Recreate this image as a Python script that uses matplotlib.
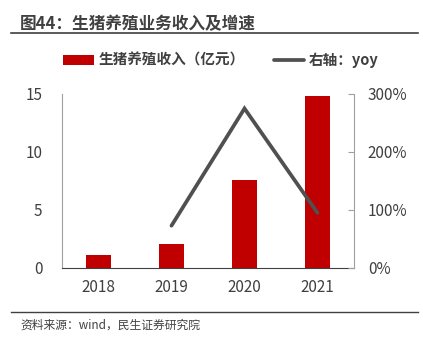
import numpy as np
import matplotlib.pyplot as plt
from matplotlib.ticker import FuncFormatter

plt.rcParams['font.family'] = ['Noto Sans CJK SC', 'DejaVu Sans']

years = ['2018', '2019', '2020', '2021']
revenue = [1.1, 2.05, 7.6, 14.85]
yoy_years = ['2019', '2020', '2021']
yoy = [0.73, 2.75, 0.95]

fig = plt.figure(figsize=(4.23, 3.55), dpi=100)
ax = fig.add_axes([62/423, 1-268/355, (354-62)/423, (268-94)/355])
x = np.arange(len(years))
ax.bar(x, revenue, width=0.33, color='#C00000', label='生猪养殖收入（亿元）', zorder=2)
ax.set_xlim(-0.5, 3.5)
ax.set_ylim(0, 15)
ax.set_yticks([0, 5, 10, 15])
ax.set_xticks(x)
ax.set_xticklabels(years)

ax2 = ax.twinx()
xi = [years.index(y) for y in yoy_years]
ax2.plot(xi, yoy, color='#505050', lw=2.7, label='右轴：yoy', zorder=3,
         solid_capstyle='round', solid_joinstyle='miter')
ax2.set_ylim(0, 3)
ax2.set_yticks([0, 1, 2, 3])
ax2.yaxis.set_major_formatter(FuncFormatter(lambda v, p: f'{v*100:.0f}%'))

for a in (ax, ax2):
    a.spines['top'].set_visible(False)
    for s in a.spines.values():
        s.set_color('#A0A0A0')
    a.tick_params(labelsize=11, colors='#404040')
ax.spines['right'].set_visible(False)
ax2.spines['left'].set_visible(False)
ax2.spines['bottom'].set_visible(False)
ax.spines['bottom'].set_color('#404040')
ax.tick_params(axis='y', length=0, pad=14)
ax.tick_params(axis='x', length=0, pad=8)
ax2.tick_params(axis='y', direction='in', length=4, color='#A0A0A0', pad=10)

h1, l1 = ax.get_legend_handles_labels()
h2, l2 = ax2.get_legend_handles_labels()
fig.legend(h1 + h2, l1 + l2, loc='center', bbox_to_anchor=(221/423, 1-60/355), ncol=2,
           frameon=False, prop={'size': 10.5, 'weight': 'bold'}, handlelength=2.1,
           columnspacing=2.0, labelcolor='#404040', handletextpad=0.3)

fig.text(20/423, 1-24/355, '图44：生猪养殖业务收入及增速', fontsize=12, fontweight='bold',
         color='#404040', va='center')
fig.add_artist(plt.Line2D([11/423, 418/423], [1-33/355, 1-33/355], color='#404040', lw=1.2))
fig.add_artist(plt.Line2D([11/423, 418/423], [1-312/355, 1-312/355], color='#404040', lw=1))
fig.text(20/423, 1-325/355, '资料来源：wind，民生证券研究院', fontsize=8.5, color='#404040', va='center')

fig.savefig('out.png', dpi=100)
